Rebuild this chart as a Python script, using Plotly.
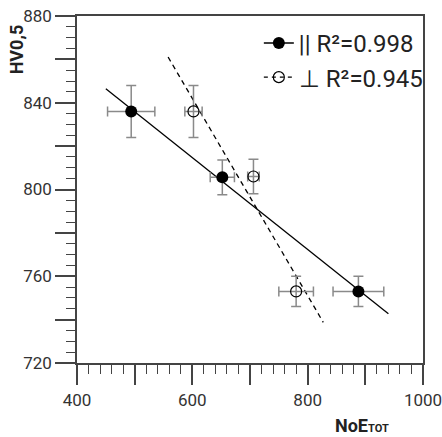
import numpy as np
import plotly.graph_objects as go

# Parallel (||) series
par_x = [494, 652, 888]
par_y = [836, 805.6, 753]
par_ex = [41, 21, 44]
par_ey = [12, 8, 7]
par_fit_range = [450, 940]

# Perpendicular (⊥) series
perp_x = [602, 706, 780]
perp_y = [836, 806, 753]
perp_ex = [15, 10, 30]
perp_ey = [12, 8, 7]
perp_fit_range = [558, 827]

par_label = "|| R²=0.998"
perp_label = "⊥ R²=0.945"

x_ticks = [400, 500, 600, 700, 800, 900, 1000]
x_ticktext = ["400", "", "600", "", "800", "", "1000"]
y_ticks = [720, 740, 760, 780, 800, 820, 840, 860, 880]
y_ticktext = ["720", "", "760", "", "800", "", "840", "", "880"]

par_fit = np.polyfit(par_x, par_y, 1)
perp_fit = np.polyfit(perp_x, perp_y, 1)
par_fx = np.array(par_fit_range, dtype=float)
perp_fx = np.array(perp_fit_range, dtype=float)

fig = go.Figure()

fig.add_trace(go.Scatter(x=par_fx, y=np.polyval(par_fit, par_fx), mode="lines",
                         line=dict(color="black", width=1.3), showlegend=False, hoverinfo="skip"))
fig.add_trace(go.Scatter(x=perp_fx, y=np.polyval(perp_fit, perp_fx), mode="lines",
                         line=dict(color="black", width=1.3, dash="5px,4px"), showlegend=False, hoverinfo="skip"))

err_style = dict(color="#8a8a8a", thickness=1.5, width=5)
fig.add_trace(go.Scatter(x=par_x, y=par_y, mode="markers",
                         marker=dict(symbol="circle", size=12, color="black"),
                         error_x=dict(type="data", array=par_ex, **err_style),
                         error_y=dict(type="data", array=par_ey, **err_style),
                         showlegend=False))
fig.add_trace(go.Scatter(x=perp_x, y=perp_y, mode="markers",
                         marker=dict(symbol="circle-open", size=11, color="black", line=dict(width=1.2)),
                         error_x=dict(type="data", array=perp_ex, **err_style),
                         error_y=dict(type="data", array=perp_ey, **err_style),
                         showlegend=False))

# legend entries
fig.add_trace(go.Scatter(x=[None], y=[None], mode="lines+markers", name=par_label,
                         line=dict(color="black", width=1.5),
                         marker=dict(symbol="circle", size=12, color="black")))
fig.add_trace(go.Scatter(x=[None], y=[None], mode="lines+markers", name=perp_label,
                         line=dict(color="black", width=1.3, dash="4px,4px"),
                         marker=dict(symbol="circle-open", size=11, color="black", line=dict(width=1.2))))

font_fam = "Roboto, 'DejaVu Sans', sans-serif"

fig.update_layout(
    width=442, height=437,
    margin=dict(l=77, r=19, t=16, b=74, autoexpand=False),
    paper_bgcolor="white", plot_bgcolor="white",
    font=dict(family=font_fam, color="#333", size=17),
    legend=dict(x=1.014, xanchor="right", y=0.986, yanchor="top", bgcolor="rgba(0,0,0,0)",
                font=dict(family="'Liberation Sans Narrow', Roboto, sans-serif", size=24, color="#222"),
                tracegroupgap=0, itemwidth=30),
    xaxis=dict(range=[400, 1000], tickmode="array", tickvals=x_ticks, ticktext=x_ticktext,
               ticks="outside", ticklen=20, tickwidth=1.5, tickcolor="#444",
               showline=True, linecolor="#444", linewidth=1.5, mirror=True, automargin=False,
               showgrid=False, zeroline=False, ticklabeloverflow="allow", ticklabelstandoff=1,
               minor=dict(dtick=20, ticks="outside", ticklen=9, tickwidth=1.3, tickcolor="#444", showgrid=False),
               tickfont=dict(size=17, color="#333")),
    yaxis=dict(range=[720, 880], tickmode="array", tickvals=y_ticks, ticktext=y_ticktext,
               ticks="outside", ticklen=20, tickwidth=1.5, tickcolor="#444",
               showline=True, linecolor="#444", linewidth=1.5, mirror=True, automargin=False,
               showgrid=False, zeroline=False, ticklabeloverflow="allow",
               minor=dict(dtick=5, ticks="outside", ticklen=9, tickwidth=1.3, tickcolor="#444", showgrid=False),
               tickfont=dict(size=17, color="#333")),
    annotations=[
        dict(text="<b>HV0,5</b>", xref="paper", yref="paper", x=-0.175, y=0.983, xanchor="center",
             yanchor="top", textangle=-90, showarrow=False, font=dict(size=18, color="#222")),
        dict(text="<b>NoE<span style='font-size:11px'>TOT</span></b>", xref="paper", yref="paper",
             x=0.825, y=-0.18, xanchor="center", yanchor="middle", showarrow=False,
             font=dict(size=18, color="#222")),
    ],
)

fig.write_html("out.html")
